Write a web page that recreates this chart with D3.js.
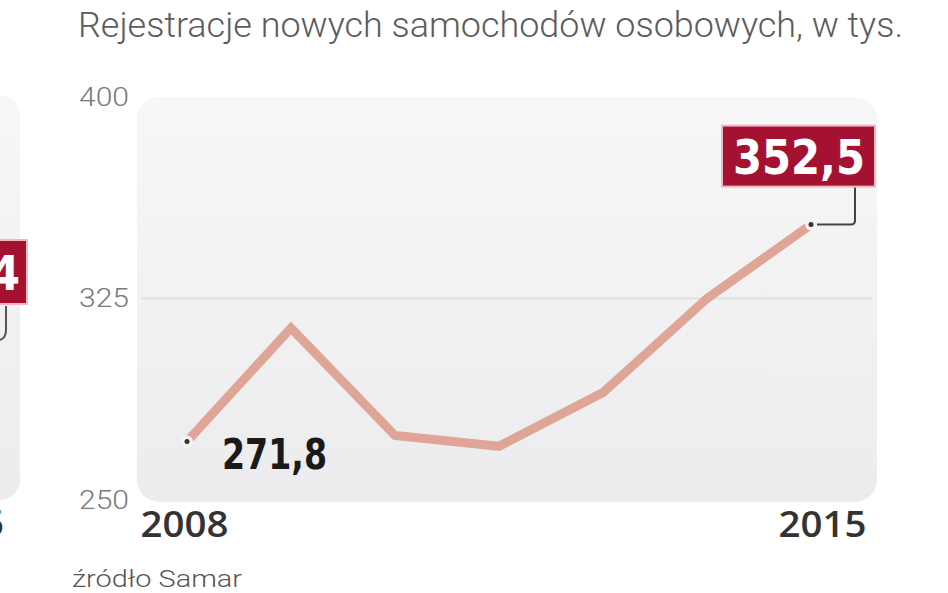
<!DOCTYPE html>
<html>
<head>
<meta charset="utf-8">
<script src="https://cdn.jsdelivr.net/npm/d3@7"></script>
<style>
  html, body { margin: 0; padding: 0; background: #fff; }
  svg { display: block; }
</style>
</head>
<body>
<svg id="chart" width="948" height="593"></svg>
<script>
// ---- data ----
const years = ["2008", "2009", "2010", "2011", "2012", "2013", "2015"];
const values = [271.8, 314, 274, 270, 290, 325, 352.5];
const yTicks = [250, 325, 400];
const xTickLabels = ["2008", "2015"];
const title = "Rejestracje nowych samochodów osobowych, w tys.";
const source = "źródło Samar";

const svg = d3.select("#chart");
const W = 948, H = 593;

const x = d3.scalePoint().domain(years).range([187, 811]);
const y = d3.scaleLinear().domain([250, 400]).range([500, 97]);

// gradient for panel
const defs = svg.append("defs");
const grad = defs.append("linearGradient").attr("id", "pg").attr("x1", 0).attr("y1", 0).attr("x2", 0).attr("y2", 1);
grad.append("stop").attr("offset", "0%").attr("stop-color", "#f7f7f8");
grad.append("stop").attr("offset", "100%").attr("stop-color", "#ececee");

// neighbour chart fragment (left edge)
svg.append("rect").attr("x", -220).attr("y", 95).attr("width", 240).attr("height", 405)
  .attr("rx", 20).attr("fill", "url(#pg)");
svg.append("path").attr("d", "M6,306 V330 Q6,338 0,340").attr("fill", "none")
  .attr("stroke", "#555").attr("stroke-width", 2);
svg.append("rect").attr("x", -120).attr("y", 240).attr("width", 147).attr("height", 64)
  .attr("fill", "#a51130").attr("stroke", "#f1b6c2").attr("stroke-width", 2);
svg.append("text").attr("x", 20).attr("y", 290).attr("text-anchor", "end")
  .attr("font-family", "Liberation Sans Narrow, DejaVu Sans Condensed, sans-serif")
  .attr("font-weight", "bold").attr("font-size", 48).attr("fill", "#fff").text("4");
svg.append("text").attr("x", 4).attr("y", 536).attr("text-anchor", "end")
  .attr("font-family", "Open Sans, sans-serif").attr("font-weight", 600)
  .attr("font-size", 36).attr("fill", "#333").text("5");

// main panel
svg.append("rect").attr("x", 137).attr("y", 97).attr("width", 740).attr("height", 405)
  .attr("rx", 22).attr("fill", "url(#pg)");

// gridline at 325
svg.append("line").attr("x1", 142).attr("x2", 872)
  .attr("y1", y(325)).attr("y2", y(325))
  .attr("stroke", "#e0e0e2").attr("stroke-width", 2);

// title
svg.append("text").attr("x", 78).attr("y", 37)
  .attr("font-family", "Roboto, sans-serif").attr("font-weight", 300)
  .attr("font-size", 35).attr("fill", "#5c5c5c")
  .attr("textLength", 825).attr("lengthAdjust", "spacingAndGlyphs")
  .text(title);

// y axis
const yAxis = d3.axisLeft(y).tickValues(yTicks).tickSize(0).tickPadding(0).tickFormat(d3.format("d"));
const gy = svg.append("g").attr("transform", "translate(129,0)").call(yAxis);
gy.select(".domain").remove();
gy.selectAll("text")
  .attr("font-family", "Roboto, sans-serif").attr("font-weight", 300)
  .attr("font-size", 26).attr("fill", "#7a7a7a")
  .attr("textLength", 50).attr("lengthAdjust", "spacingAndGlyphs");

// x axis labels (first & last)
const xAxis = d3.axisBottom(x).tickValues([years[0], years[years.length - 1]])
  .tickSize(0).tickPadding(0)
  .tickFormat((d, i) => xTickLabels[i]);
const gx = svg.append("g").attr("transform", "translate(0,537)").call(xAxis);
gx.select(".domain").remove();
gx.selectAll("text")
  .attr("dy", 0).attr("y", 0)
  .attr("font-family", "Open Sans, sans-serif").attr("font-weight", 600)
  .attr("font-size", 36).attr("fill", "#333")
  .attr("textLength", 88).attr("lengthAdjust", "spacingAndGlyphs")
  .attr("dx", (d, i) => i === 0 ? -3 : 11);

// line
const data = years.map((yr, i) => ({ yr, v: values[i] }));
const line = d3.line().x(d => x(d.yr)).y(d => y(d.v));
svg.append("path").datum(data).attr("d", line)
  .attr("fill", "none").attr("stroke", "#dfa596").attr("stroke-width", 9)
  .attr("stroke-linejoin", "miter").attr("stroke-linecap", "butt");

// markers on first and last
const ends = [data[0], data[data.length - 1]];
svg.selectAll("circle.halo").data(ends).enter().append("circle")
  .attr("cx", d => x(d.yr)).attr("cy", d => y(d.v)).attr("r", 6).attr("fill", "#f4f4f4");
svg.selectAll("circle.dot").data(ends).enter().append("circle")
  .attr("cx", d => x(d.yr)).attr("cy", d => y(d.v)).attr("r", 2.5).attr("fill", "#333");

// first value label
const f = data[0];
svg.append("text").attr("x", x(f.yr) + 35).attr("y", y(f.v) + 28)
  .attr("font-family", "Liberation Sans Narrow, DejaVu Sans Condensed, sans-serif")
  .attr("font-weight", "bold").attr("font-size", 42).attr("fill", "#1a1a1a")
  .attr("textLength", 105).attr("lengthAdjust", "spacingAndGlyphs")
  .text(d3.format(".1f")(f.v).replace(".", ","));

// last value label box
const l = data[data.length - 1];
const lx = x(l.yr), ly = y(l.v);
svg.append("path").attr("d", `M${lx + 6},${ly} H${lx + 40} Q${lx + 44},${ly} ${lx + 44},${ly - 4} V${ly - 38}`)
  .attr("fill", "none").attr("stroke", "#444").attr("stroke-width", 2);
svg.append("rect").attr("x", lx - 89).attr("y", ly - 99).attr("width", 153).attr("height", 61)
  .attr("fill", "#a51130").attr("stroke", "#f1b6c2").attr("stroke-width", 2);
svg.append("text").attr("x", lx - 12).attr("y", ly - 51).attr("text-anchor", "middle")
  .attr("font-family", "Liberation Sans Narrow, DejaVu Sans Condensed, sans-serif")
  .attr("font-weight", "bold").attr("font-size", 48).attr("fill", "#fff")
  .attr("textLength", 132).attr("lengthAdjust", "spacingAndGlyphs")
  .text(d3.format(".1f")(l.v).replace(".", ","));

// source
svg.append("text").attr("x", 72).attr("y", 587)
  .attr("font-family", "Roboto, sans-serif").attr("font-weight", 300)
  .attr("font-size", 23).attr("fill", "#555")
  .attr("textLength", 170).attr("lengthAdjust", "spacingAndGlyphs")
  .text(source);
</script>
</body>
</html>
